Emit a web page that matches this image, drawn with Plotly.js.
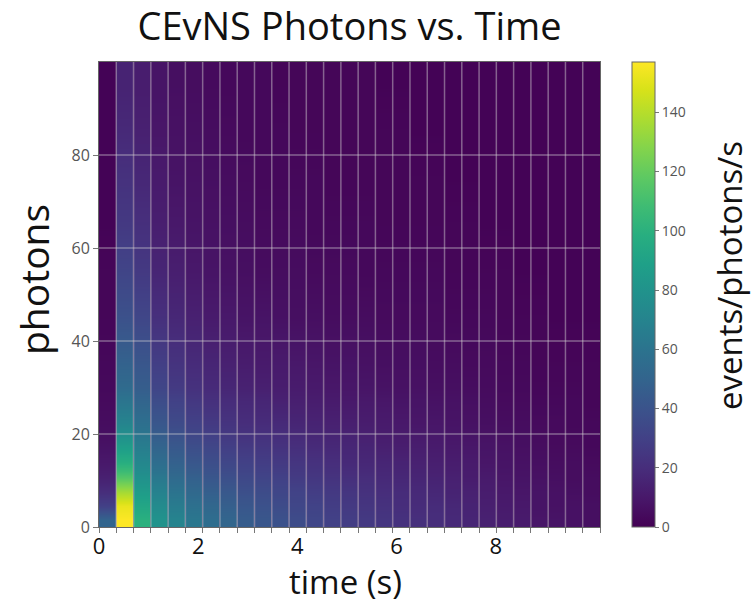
<!DOCTYPE html>
<html>
<head>
<meta charset="utf-8">
<script src="https://cdn.plot.ly/plotly-3.0.1.min.js"></script>
<style>html,body{margin:0;padding:0;background:#fff;}#chart{width:754px;height:604px;}</style>
</head>
<body>
<div id="chart"></div>
<script>
// ---- data ----
var timeMax = 10.1;            // right end of the time axis (s)
var nTimeBins = 29;            // number of time bins
var photonEdges = [0, 3, 6, 9, 12, 16, 20, 25, 30, 40, 50, 60, 70, 80, 90, 100];
// events/photons/s, one array per time bin, listed from low to high photon count
var countsByTimeBin = [
  [50, 30, 20, 14, 10, 7, 5, 4, 3, 2, 2, 1, 1, 1, 1],
  [157, 152, 136, 116, 98, 84, 70, 60, 49, 39, 32, 26, 22, 18, 15],
  [100, 93, 86, 79, 72, 65, 57, 50, 42, 33, 26, 21, 17, 14, 12],
  [80, 75, 69, 63, 56, 49, 42, 36, 29, 21, 16, 13, 11, 9, 8],
  [70, 65, 60, 54, 48, 42, 35, 30, 23, 17, 13, 10, 8, 7, 6],
  [62, 58, 53, 48, 42, 36, 30, 25, 19, 14, 10, 8, 7, 6, 5],
  [56, 52, 47, 42, 37, 32, 26, 21, 16, 11, 8, 7, 6, 5, 4],
  [51, 47, 43, 38, 33, 28, 23, 19, 14, 10, 7, 6, 5, 4, 3],
  [45, 42, 38, 34, 30, 25, 20, 17, 12, 8, 6, 5, 4, 3, 3],
  [42, 39, 36, 32, 28, 24, 19, 16, 11, 8, 5, 4, 3, 3, 3],
  [39, 36, 33, 30, 26, 22, 18, 14, 11, 7, 5, 4, 3, 3, 2],
  [36, 33, 31, 27, 24, 20, 16, 13, 10, 6, 5, 4, 3, 2, 2],
  [33, 31, 28, 25, 22, 18, 15, 12, 9, 6, 4, 3, 3, 2, 2],
  [30, 28, 26, 23, 20, 17, 14, 11, 8, 5, 4, 3, 2, 2, 2],
  [28, 26, 24, 21, 18, 16, 13, 10, 8, 5, 4, 3, 2, 2, 2],
  [26, 24, 22, 20, 17, 15, 12, 10, 7, 5, 3, 3, 2, 2, 2],
  [24, 22, 20, 18, 16, 13, 11, 9, 6, 4, 3, 2, 2, 2, 1],
  [22, 20, 19, 17, 15, 12, 10, 8, 6, 4, 3, 2, 2, 2, 1],
  [21, 19, 18, 16, 14, 12, 9, 8, 6, 4, 3, 2, 2, 1, 1],
  [20, 19, 17, 15, 13, 11, 9, 7, 5, 4, 3, 2, 2, 1, 1],
  [18, 17, 15, 14, 12, 10, 8, 7, 5, 3, 2, 2, 1, 1, 1],
  [16, 15, 14, 12, 11, 9, 7, 6, 4, 3, 2, 2, 1, 1, 1],
  [14, 13, 12, 11, 9, 8, 6, 5, 4, 3, 2, 1, 1, 1, 1],
  [12, 11, 10, 9, 8, 7, 5, 4, 3, 2, 2, 1, 1, 1, 1],
  [11, 10, 9, 8, 7, 6, 5, 4, 3, 2, 1, 1, 1, 1, 1],
  [9, 8, 8, 7, 6, 5, 4, 3, 2, 2, 1, 1, 1, 1, 1],
  [8, 7, 7, 6, 5, 4, 4, 3, 2, 1, 1, 1, 1, 1, 1],
  [7, 7, 6, 5, 5, 4, 3, 3, 2, 1, 1, 1, 1, 1, 1],
  [6, 6, 5, 5, 4, 3, 3, 2, 2, 1, 1, 1, 1, 1, 1]
];
var xTickVals = [0, 2, 4, 6, 8];
var yTickVals = [0, 20, 40, 60, 80];
var cbTickVals = [0, 20, 40, 60, 80, 100, 120, 140];
var zMax = 157;

// ---- build ----
var timeEdges = [];
for (var i = 0; i <= nTimeBins; i++) timeEdges.push(i * timeMax / nTimeBins);

var traces = [];
countsByTimeBin.forEach(function (col, i) {
  var a = timeEdges[i], b = timeEdges[i + 1];
  traces.push({
    type: 'heatmap',
    x: [a, (a + b) / 2, b],
    y: photonEdges,
    z: col.map(function (v) { return [v, v]; }),
    zmin: 0, zmax: zMax,
    colorscale: 'Viridis',
    zsmooth: 'best',
    showscale: i === 0,
    hoverinfo: 'skip',
    colorbar: {
      x: (632 - 99) / 501, xanchor: 'left', xpad: 0,
      y: 0.5, yanchor: 'middle', ypad: 0,
      len: 1, lenmode: 'fraction', thickness: 23,
      outlinewidth: 1, outlinecolor: '#666',
      tickmode: 'array', tickvals: cbTickVals,
      ticks: 'outside', ticklen: 4, tickcolor: '#777',
      tickfont: {family: 'Open Sans', size: 14, color: '#555'}
    }
  });
});

var shapes = [];
var gridStyle = {color: 'rgba(215,215,215,0.45)', width: 1.5};
for (var k = 1; k < nTimeBins; k++) {
  shapes.push({type: 'line', xref: 'x', yref: 'paper', x0: timeEdges[k], x1: timeEdges[k],
               y0: 0, y1: 1, line: gridStyle, layer: 'above'});
}
yTickVals.slice(1).forEach(function (v) {
  shapes.push({type: 'line', xref: 'paper', yref: 'y', x0: 0, x1: 1, y0: v, y1: v,
               line: gridStyle, layer: 'above'});
});

var layout = {
  width: 754, height: 604,
  paper_bgcolor: '#fff', plot_bgcolor: '#440154',
  margin: {l: 99, r: 154, t: 62, b: 77},
  font: {family: 'Open Sans', color: '#111'},
  title: {text: 'CEvNS Photons vs. Time', x: 0.5, xref: 'paper', xanchor: 'center',
          y: 1 - 27 / 604, yref: 'container', yanchor: 'middle',
          font: {family: 'Open Sans', size: 38, color: '#111'}},
  xaxis: {
    range: [0, timeMax], tickmode: 'array', tickvals: xTickVals,
    ticks: '', showgrid: false, zeroline: false,
    showline: true, mirror: true, linecolor: '#666', linewidth: 1,
    tickfont: {family: 'Open Sans', size: 22, color: '#111'},
    minor: {tickmode: 'array', tickvals: timeEdges, ticks: 'outside', ticklen: 5,
            tickcolor: '#777', tickwidth: 1, showgrid: false}
  },
  yaxis: {
    range: [0, 100], tickmode: 'array', tickvals: yTickVals,
    ticks: 'outside', ticklen: 5, tickcolor: '#777',
    showgrid: false, zeroline: false,
    showline: true, mirror: true, linecolor: '#666', linewidth: 1,
    tickfont: {family: 'Open Sans', size: 16, color: '#555'}
  },
  annotations: [
    {text: 'time (s)', xref: 'paper', yref: 'paper', x: (345 - 99) / 501, y: (527 - 581) / 465,
     xanchor: 'center', yanchor: 'middle', showarrow: false,
     font: {family: 'Open Sans', size: 33, color: '#111'}},
    {text: 'photons', xref: 'paper', yref: 'paper', x: (33 - 99) / 501, y: (527 - 280) / 465,
     xanchor: 'center', yanchor: 'middle', textangle: -90, showarrow: false,
     font: {family: 'Open Sans', size: 39, color: '#111'}},
    {text: 'events/photons/s', xref: 'paper', yref: 'paper', x: (729 - 99) / 501, y: (527 - 276) / 465,
     xanchor: 'center', yanchor: 'middle', textangle: -90, showarrow: false,
     font: {family: 'Open Sans', size: 33, color: '#111'}}
  ],
  shapes: shapes,
  showlegend: false
};

Plotly.newPlot('chart', traces, layout, {displayModeBar: false, staticPlot: true});
</script>
</body>
</html>
